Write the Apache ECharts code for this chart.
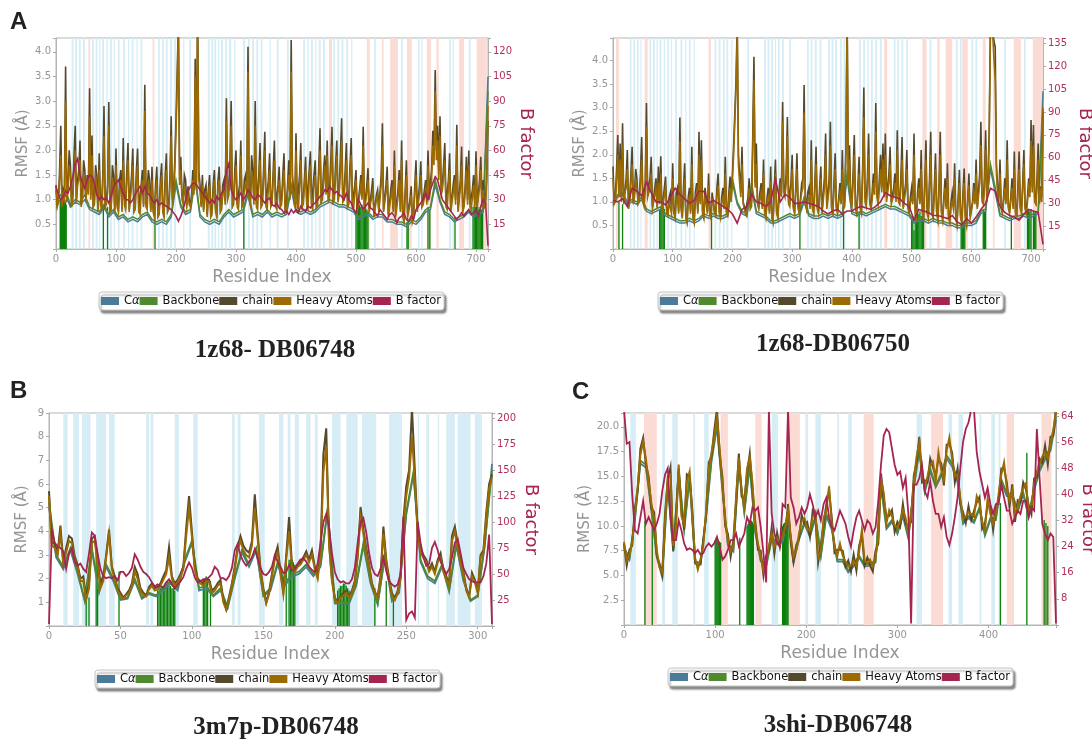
<!DOCTYPE html>
<html>
<head>
<meta charset="utf-8">
<script src="https://cdn.jsdelivr.net/npm/echarts@6/dist/echarts.min.js"></script>
<style>
  html, body { margin: 0; padding: 0; background: #fff; }
  #main { width: 1092px; height: 744px; }
</style>
</head>
<body>
<div id="main"></div>
<script>
// ---------- panel A : 1z68- DB06748 (720 residues) ----------
// chain / heavy atoms read every 2 residues, backbone / C-alpha every 8, B factor every 4
const aChain = [
  1.3, 0.9, 1.0, 1.6, 2.5, 0.9, 1.2, 1.1, 3.7, 1.0, 1.3, 2.0, 1.7, 0.9, 1.1, 1.9, 2.5, 1.0, 1.4, 1.6,
  2.2, 0.9, 1.1, 1.8, 1.6, 1.0, 1.5, 1.2, 3.26, 1.1, 2.3, 0.9, 1.0, 1.7, 1.5, 0.8, 1.94, 1.0, 0.9, 1.5,
  2.9, 0.9, 1.0, 1.3, 2.98, 0.8, 0.9, 1.7, 1.5, 0.8, 2.04, 0.9, 0.8, 1.4, 1.6, 0.8, 2.25, 1.0, 0.9, 1.6,
  2.15, 0.8, 0.8, 1.5, 2.04, 0.8, 0.9, 1.6, 2.04, 0.8, 0.8, 1.3, 1.6, 0.9, 3.33, 0.9, 0.9, 1.6, 1.4, 0.8,
  1.67, 0.8, 0.7, 1.3, 1.67, 0.7, 0.8, 1.4, 1.74, 0.8, 0.7, 1.5, 1.94, 0.8, 0.9, 1.5, 2.69, 1.0, 1.2, 1.8,
  2.6, 3.6, 4.6, 1.4, 1.87, 1.1, 1.0, 1.5, 1.4, 0.9, 1.27, 1.0, 0.9, 1.1, 1.6, 1.2, 3.86, 1.3, 5.0, 1.6,
  1.3, 0.9, 1.5, 0.8, 1.2, 1.3, 0.7, 1.2, 1.5, 0.7, 0.8, 1.3, 1.6, 0.8, 0.7, 1.4, 1.67, 0.8, 0.9, 1.3,
  1.4, 1.0, 3.06, 1.1, 1.2, 1.8, 3.0, 0.9, 1.0, 1.6, 2.0, 0.9, 0.9, 1.3, 2.2, 0.9, 1.0, 1.4, 1.5, 1.2,
  4.1, 1.1, 1.0, 1.9, 1.6, 1.0, 3.0, 0.9, 0.9, 1.5, 2.15, 0.9, 1.0, 1.6, 2.38, 0.9, 0.9, 1.4, 1.94, 0.9,
  1.0, 1.6, 2.2, 0.9, 0.9, 1.3, 1.67, 0.9, 1.0, 1.5, 1.94, 0.8, 0.9, 1.3, 1.8, 1.1, 4.24, 1.5, 1.2, 0.9,
  2.35, 0.9, 0.9, 1.5, 2.15, 0.9, 1.0, 1.4, 1.87, 0.9, 0.9, 1.6, 1.98, 0.9, 0.9, 1.5, 1.8, 0.9, 1.0, 1.7,
  2.45, 1.0, 1.1, 1.6, 1.9, 1.2, 2.2, 1.0, 1.2, 1.8, 2.48, 1.0, 1.1, 1.7, 2.2, 1.0, 1.2, 1.9, 2.65, 1.0,
  1.1, 1.6, 2.15, 0.9, 1.0, 1.7, 2.25, 0.9, 0.9, 1.3, 1.6, 0.8, 0.8, 1.2, 1.5, 1.1, 2.48, 0.8, 0.8, 1.3,
  1.64, 0.8, 0.8, 1.2, 1.44, 0.7, 0.7, 1.1, 1.2, 0.8, 0.8, 1.5, 2.55, 0.8, 0.8, 1.3, 1.67, 0.7, 0.7, 1.2,
  1.4, 0.8, 2.0, 0.7, 0.7, 1.2, 1.6, 0.8, 2.2, 0.7, 0.6, 1.2, 1.8, 0.7, 0.7, 1.0, 1.27, 0.6, 0.7, 1.3,
  1.8, 0.8, 0.8, 1.3, 1.78, 0.9, 1.0, 1.2, 1.4, 1.0, 2.0, 1.1, 1.1, 1.6, 2.4, 1.9, 3.63, 2.0, 2.5, 1.6,
  2.69, 1.2, 1.3, 1.7, 2.15, 0.9, 0.9, 1.4, 1.94, 0.8, 0.8, 1.3, 1.5, 1.0, 2.52, 0.8, 0.8, 1.4, 2.08, 0.8,
  0.9, 1.3, 1.87, 1.0, 2.0, 0.9, 0.9, 1.2, 1.5, 0.9, 1.98, 0.9, 0.9, 1.4, 1.87, 0.9, 1.4, 0.9, 1.0, 1.6,
  2.6
];
const aHeavy = [
  1.2, 0.85, 0.95, 1.4, 1.9, 0.85, 1.1, 1.0, 3.0, 0.95, 1.2, 1.7, 1.5, 0.85, 1.0, 1.6, 2.0, 0.95, 1.3, 1.4,
  1.8, 0.85, 1.0, 1.5, 1.4, 0.95, 1.4, 1.1, 2.7, 1.0, 1.9, 0.85, 0.9, 1.45, 1.3, 0.75, 1.6, 0.9, 0.8, 1.3,
  2.3, 0.85, 0.9, 1.15, 2.5, 0.75, 0.8, 1.45, 1.3, 0.75, 1.7, 0.85, 0.75, 1.2, 1.4, 0.75, 1.8, 0.9, 0.8, 1.4,
  1.8, 0.75, 0.75, 1.3, 1.7, 0.75, 0.8, 1.4, 1.7, 0.75, 0.7, 1.15, 1.4, 0.85, 2.8, 0.85, 0.8, 1.4, 1.2, 0.75,
  1.4, 0.75, 0.65, 1.15, 1.4, 0.65, 0.7, 1.2, 1.5, 0.75, 0.65, 1.3, 1.6, 0.75, 0.8, 1.3, 2.3, 0.9, 1.1, 1.6,
  2.4, 3.3, 4.5, 1.3, 1.6, 1.0, 0.9, 1.3, 1.3, 0.85, 1.1, 0.9, 0.85, 1.0, 1.4, 1.1, 3.5, 1.2, 4.8, 1.4,
  1.2, 0.85, 1.3, 0.75, 1.1, 1.15, 0.65, 1.1, 1.3, 0.65, 0.7, 1.15, 1.4, 0.75, 0.65, 1.25, 1.4, 0.75, 0.8, 1.15,
  1.2, 0.9, 2.6, 1.0, 1.1, 1.5, 2.5, 0.85, 0.9, 1.4, 1.7, 0.85, 0.8, 1.15, 1.9, 0.85, 0.9, 1.25, 1.3, 1.1,
  3.6, 1.0, 0.9, 1.6, 1.4, 0.9, 2.5, 0.85, 0.8, 1.3, 1.8, 0.85, 0.9, 1.4, 2.0, 0.85, 0.8, 1.25, 1.6, 0.85,
  0.9, 1.4, 1.8, 0.85, 0.8, 1.15, 1.4, 0.85, 0.9, 1.3, 1.6, 0.75, 0.8, 1.15, 1.5, 1.0, 3.6, 1.3, 1.1, 0.85,
  2.0, 0.85, 0.8, 1.3, 1.8, 0.85, 0.9, 1.25, 1.6, 0.85, 0.8, 1.4, 1.7, 0.85, 0.8, 1.3, 1.5, 0.85, 0.9, 1.5,
  2.0, 0.95, 1.0, 1.4, 1.7, 1.1, 1.9, 0.95, 1.1, 1.55, 2.1, 0.95, 1.0, 1.5, 1.9, 0.95, 1.1, 1.6, 2.2, 0.95,
  1.0, 1.4, 1.8, 0.85, 0.9, 1.5, 1.9, 0.85, 0.8, 1.15, 1.4, 0.75, 0.75, 1.1, 1.3, 1.0, 2.1, 0.75, 0.75, 1.15,
  1.4, 0.75, 0.75, 1.05, 1.2, 0.65, 0.65, 1.0, 1.1, 0.75, 0.75, 1.3, 2.1, 0.75, 0.75, 1.15, 1.4, 0.65, 0.65, 1.05,
  1.2, 0.75, 1.7, 0.65, 0.65, 1.05, 1.4, 0.75, 1.8, 0.65, 0.55, 1.05, 1.5, 0.65, 0.65, 0.9, 1.1, 0.55, 0.65, 1.15,
  1.5, 0.75, 0.75, 1.15, 1.5, 0.85, 0.9, 1.05, 1.2, 0.9, 1.7, 1.0, 1.0, 1.4, 2.1, 1.7, 3.2, 1.8, 2.2, 1.4,
  2.3, 1.1, 1.2, 1.5, 1.8, 0.85, 0.8, 1.25, 1.6, 0.75, 0.75, 1.15, 1.3, 0.9, 2.1, 0.75, 0.75, 1.25, 1.7, 0.75,
  0.85, 1.15, 1.6, 0.9, 1.7, 0.85, 0.8, 1.05, 1.3, 0.85, 1.7, 0.85, 0.85, 1.25, 1.6, 0.85, 1.2, 0.85, 0.9, 1.4,
  2.9
];
const aBackbone = [
  0.95, 1.1, 1.2, 0.9, 1.0, 0.95, 1.1, 0.85, 0.8, 0.75,
  0.9, 0.7, 0.8, 0.65, 0.7, 0.6, 0.65, 0.6, 0.7, 0.75,
  0.6, 0.55, 0.6, 0.55, 0.7, 1.4, 0.9, 0.75, 0.8, 1.5,
  0.7, 0.6, 0.55, 0.6, 0.55, 0.7, 0.8, 0.7, 0.75, 0.8,
  1.2, 0.7, 0.75, 0.7, 0.8, 0.7, 0.75, 0.7, 0.75, 1.3,
  0.8, 0.75, 0.8, 0.75, 0.8, 0.9, 0.95, 1.0, 0.95, 0.9,
  0.9, 0.85, 0.8, 0.65, 0.7, 0.75, 0.65, 0.7, 0.7, 0.6,
  0.6, 0.55, 0.55, 0.5, 0.6, 0.55, 0.65, 0.8, 0.85, 1.4,
  1.0, 0.75, 0.7, 0.6, 0.65, 0.7, 0.8, 0.7, 0.75, 0.8,
  3.2
];
const aCalpha = [
  0.9, 1.0, 1.1, 0.85, 0.95, 0.9, 1.0, 0.8, 0.75, 0.7,
  0.85, 0.65, 0.75, 0.6, 0.65, 0.55, 0.6, 0.55, 0.65, 0.7,
  0.55, 0.5, 0.55, 0.5, 0.65, 1.3, 0.85, 0.7, 0.75, 1.4,
  0.65, 0.55, 0.5, 0.55, 0.5, 0.65, 0.75, 0.65, 0.7, 0.75,
  1.1, 0.65, 0.7, 0.65, 0.75, 0.65, 0.7, 0.65, 0.7, 1.2,
  0.75, 0.7, 0.75, 0.7, 0.75, 0.85, 0.9, 0.95, 0.9, 0.85,
  0.85, 0.8, 0.75, 0.6, 0.65, 0.7, 0.6, 0.65, 0.65, 0.55,
  0.55, 0.5, 0.5, 0.45, 0.55, 0.5, 0.6, 0.75, 0.8, 1.3,
  0.95, 0.7, 0.65, 0.55, 0.6, 0.65, 0.75, 0.65, 0.7, 0.75,
  3.5
];
const aBfactor = [
  38, 33, 30, 32, 35, 34, 38, 44, 52, 55,
  45, 40, 37, 42, 45, 44, 40, 33, 30, 32,
  30, 31, 28, 32, 38, 40, 42, 38, 34, 30,
  30, 28, 30, 33, 36, 38, 34, 38, 34, 33,
  30, 28, 30, 27, 28, 27, 26, 25, 24, 22,
  20, 17, 20, 24, 30, 35, 38, 40, 40, 38,
  36, 34, 32, 30, 28, 30, 28, 32, 30, 34,
  36, 48, 52, 36, 32, 30, 32, 34, 30, 32,
  36, 34, 31, 30, 33, 32, 30, 28, 30, 31,
  27, 26, 28, 25, 24, 22, 23, 21, 24, 22,
  24, 22, 26, 24, 23, 26, 25, 27, 28, 30,
  32, 33, 36, 35, 38, 36, 34, 35, 33, 32,
  30, 34, 30, 28, 24, 22, 30, 27, 24, 26,
  28, 25, 24, 22, 20, 24, 22, 20, 18, 21,
  22, 20, 16, 19, 20, 22, 18, 17, 20, 18,
  24, 26, 28, 30, 34, 30, 36, 40, 44, 42,
  36, 30, 28, 26, 24, 22, 20, 18, 20, 22,
  20, 22, 24, 21, 22, 24, 20, 26, 30, 28,
  2
];
const aStrands = [[26,29],[32,35],[38,41],[45,48],[60,63],[66,69],[72,74],[77,80],[84,86],[90,93],[96,98],[103,106],[112,115],[120,122],[126,129],[134,136],[141,144],[170,173],[177,180],[183,186],[190,193],[197,200],[212,214],[222,225],[253,256],[259,262],[264,267],[270,272],[275,278],[282,285],[288,292],[297,299],[312,315],[320,323],[327,330],[334,337],[341,344],[356,358],[368,371],[385,388],[412,415],[419,421],[425,428],[432,434],[438,441],[445,448],[462,465],[469,472],[476,479],[484,487],[492,494],[530,533],[567,570],[575,578],[603,606],[609,611],[655,658],[661,663],[688,691]];
const aHelices = [[54,57],[161,164],[455,460],[518,523],[543,546],[557,568],[585,593],[618,625],[634,638],[672,680],[701,718]];
const aContacts = [[7,0.95],[8,1.0],[9,1.0],[10,0.95],[11,1.0],[12,1.0],[13,0.95],[14,0.95],[15,1.0],[16,0.95],[17,0.9],[79,0.9],[86,0.85],[165,0.85],[313,0.8],[500,0.75],[502,0.8],[504,0.85],[506,0.9],[508,0.85],[510,0.9],[512,0.85],[514,0.8],[516,0.85],[518,0.8],[520,0.75],[585,0.55],[587,0.6],[620,0.85],[623,0.8],[665,0.65],[695,0.85],[697,0.9],[699,0.85],[701,0.9],[703,0.85],[705,0.8],[707,0.85],[709,0.8],[711,0.85]];

// ---------- panel A2 : 1z68-DB06750 ----------
const a2Chain = [
  1.75, 1.0, 1.1, 1.7, 2.42, 1.2, 2.24, 1.1, 2.67, 1.0, 1.2, 1.5, 2.1, 0.9, 1.1, 1.6, 2.17, 1.0, 1.2, 1.7,
  1.5, 1.0, 1.1, 1.6, 2.38, 1.1, 1.0, 1.4, 3.1, 1.2, 1.2, 1.5, 1.96, 0.9, 0.9, 1.3, 1.5, 0.9, 1.75, 1.0,
  1.97, 0.8, 0.8, 1.3, 1.54, 0.8, 0.75, 1.1, 1.2, 0.8, 1.82, 0.8, 0.7, 1.2, 1.3, 0.8, 2.79, 0.9, 0.7, 1.3,
  1.82, 0.7, 0.6, 1.1, 1.3, 0.8, 2.17, 0.7, 0.6, 1.2, 1.4, 0.8, 2.49, 1.0, 2.31, 0.8, 0.7, 1.3, 1.1, 0.8,
  1.6, 0.8, 0.7, 1.2, 1.2, 0.8, 0.75, 1.3, 1.6, 0.8, 0.7, 1.1, 1.3, 0.9, 1.96, 0.8, 0.75, 1.2, 1.54, 1.1,
  1.6, 2.2, 2.9, 3.6, 4.8, 2.0, 1.6, 1.2, 2.17, 1.0, 0.9, 0.8, 0.76, 1.1, 1.5, 0.9, 1.0, 2.4, 4.08, 1.4,
  2.24, 1.0, 0.9, 1.2, 1.4, 0.9, 1.9, 0.8, 0.7, 1.1, 1.3, 0.8, 1.75, 0.7, 0.6, 1.3, 1.9, 0.8, 0.7, 1.2,
  1.5, 1.2, 3.12, 1.3, 1.2, 1.6, 2.8, 1.0, 1.0, 1.4, 2.0, 0.9, 0.8, 1.3, 2.03, 0.9, 0.8, 1.1, 1.4, 1.5,
  3.48, 1.1, 0.9, 1.2, 1.3, 0.9, 2.31, 0.9, 0.8, 1.4, 2.17, 0.9, 0.8, 1.3, 1.75, 0.8, 0.8, 1.5, 2.45, 0.9,
  0.9, 1.5, 2.7, 0.9, 0.8, 1.4, 2.03, 0.9, 0.8, 1.1, 1.4, 1.0, 2.1, 0.9, 1.0, 2.2, 5.0, 1.6, 2.2, 1.1,
  1.0, 1.6, 2.42, 0.9, 0.8, 1.3, 1.96, 0.9, 0.8, 1.7, 3.43, 1.1, 1.0, 1.5, 2.45, 1.0, 0.9, 1.2, 1.6, 1.3,
  3.1, 1.2, 1.0, 1.5, 2.0, 1.3, 2.24, 1.2, 2.45, 1.1, 1.1, 1.6, 2.17, 1.0, 1.0, 1.3, 1.6, 1.1, 2.52, 1.1,
  1.0, 1.5, 2.38, 0.9, 0.9, 1.4, 2.1, 0.9, 0.8, 1.1, 1.3, 1.0, 2.45, 0.8, 0.7, 1.2, 1.5, 1.0, 2.1, 0.8,
  0.7, 1.4, 2.31, 0.8, 0.7, 1.5, 2.49, 0.8, 0.7, 1.3, 2.03, 0.8, 0.65, 1.4, 2.49, 0.8, 0.65, 1.1, 1.5, 0.9,
  1.82, 0.7, 0.6, 1.0, 1.2, 0.9, 1.82, 0.7, 0.55, 1.1, 1.68, 0.7, 0.6, 1.2, 1.71, 0.7, 0.55, 1.1, 1.6, 0.7,
  0.7, 1.0, 1.4, 1.0, 1.9, 0.9, 0.9, 1.6, 2.7, 1.1, 1.0, 1.5, 2.52, 1.1, 1.5, 2.6, 4.8, 4.9, 4.6, 4.4,
  4.29, 1.8, 1.3, 1.1, 1.9, 0.9, 0.8, 1.1, 1.5, 1.0, 2.31, 0.9, 0.8, 1.1, 1.5, 0.9, 2.07, 0.8, 0.75, 1.3,
  2.07, 0.9, 0.8, 1.4, 2.1, 0.9, 0.8, 1.1, 1.5, 1.2, 2.74, 1.3, 2.63, 1.1, 1.0, 1.5, 2.24, 1.0, 1.33, 1.1,
  2.9
];
const a2Heavy = [
  1.5, 0.95, 1.0, 1.45, 2.0, 1.1, 1.9, 1.0, 2.2, 0.95, 1.2, 1.3, 1.7, 0.85, 1.0, 1.4, 1.8, 0.95, 1.1, 1.45,
  1.3, 0.95, 1.0, 1.4, 1.9, 1.0, 0.9, 1.25, 2.6, 1.1, 1.1, 1.3, 1.6, 0.85, 0.85, 1.15, 1.3, 0.85, 1.4, 0.95,
  1.6, 0.75, 0.75, 1.15, 1.3, 0.75, 0.7, 1.0, 1.0, 0.75, 1.5, 0.75, 0.65, 1.05, 1.1, 0.75, 2.3, 0.85, 0.65, 1.15,
  1.5, 0.65, 0.55, 1.0, 1.1, 0.75, 1.8, 0.65, 0.55, 1.05, 1.2, 0.75, 2.0, 0.95, 1.9, 0.75, 0.65, 1.15, 0.95, 0.75,
  1.35, 0.75, 0.65, 1.05, 1.0, 0.75, 0.7, 1.15, 1.35, 0.75, 0.65, 1.0, 1.1, 0.85, 1.6, 0.75, 0.7, 1.05, 1.3, 1.0,
  1.5, 2.0, 2.7, 3.4, 4.6, 1.8, 1.4, 1.1, 1.8, 0.95, 0.85, 0.75, 0.7, 1.0, 1.3, 0.85, 0.9, 2.1, 3.6, 1.3,
  1.8, 0.95, 0.85, 1.05, 1.2, 0.85, 1.6, 0.75, 0.65, 1.0, 1.1, 0.75, 1.45, 0.65, 0.55, 1.15, 1.6, 0.75, 0.65, 1.05,
  1.3, 1.1, 2.7, 1.2, 1.1, 1.4, 2.4, 0.95, 0.9, 1.25, 1.7, 0.85, 0.75, 1.15, 1.7, 0.85, 0.75, 1.0, 1.2, 1.3,
  2.9, 1.0, 0.85, 1.05, 1.1, 0.85, 1.9, 0.85, 0.75, 1.25, 1.8, 0.85, 0.75, 1.15, 1.5, 0.75, 0.75, 1.3, 2.0, 0.85,
  0.85, 1.3, 2.2, 0.85, 0.75, 1.25, 1.7, 0.85, 0.75, 1.0, 1.2, 0.95, 1.7, 0.85, 0.9, 2.0, 4.8, 1.4, 1.9, 1.0,
  0.9, 1.4, 2.0, 0.85, 0.75, 1.15, 1.6, 0.85, 0.75, 1.5, 2.8, 1.0, 0.9, 1.3, 2.0, 0.95, 0.85, 1.05, 1.4, 1.15,
  2.5, 1.1, 0.95, 1.3, 1.7, 1.2, 1.9, 1.1, 2.0, 1.0, 1.0, 1.4, 1.8, 0.95, 0.95, 1.15, 1.4, 1.0, 2.1, 1.0,
  0.95, 1.3, 1.9, 0.85, 0.85, 1.25, 1.7, 0.85, 0.75, 1.0, 1.1, 0.95, 2.0, 0.75, 0.65, 1.05, 1.3, 0.95, 1.7, 0.75,
  0.65, 1.25, 1.9, 0.75, 0.65, 1.3, 2.0, 0.75, 0.65, 1.15, 1.7, 0.75, 0.6, 1.25, 2.0, 0.75, 0.6, 1.0, 1.3, 0.85,
  1.5, 0.65, 0.55, 0.9, 1.0, 0.85, 1.5, 0.65, 0.5, 1.0, 1.4, 0.65, 0.55, 1.05, 1.4, 0.65, 0.5, 1.0, 1.35, 0.65,
  0.65, 0.95, 1.2, 0.95, 1.6, 0.85, 0.85, 1.4, 2.2, 1.0, 0.95, 1.3, 2.1, 1.0, 1.4, 2.4, 4.6, 4.7, 4.5, 4.0,
  3.6, 1.6, 1.2, 1.0, 1.6, 0.85, 0.75, 1.0, 1.3, 0.95, 1.9, 0.85, 0.75, 1.0, 1.3, 0.85, 1.7, 0.75, 0.7, 1.15,
  1.7, 0.85, 0.75, 1.25, 1.8, 0.85, 0.75, 1.0, 1.3, 1.1, 2.3, 1.2, 2.2, 1.0, 0.95, 1.3, 1.9, 0.95, 1.2, 1.0,
  3.0
];
const a2Backbone = [
  1.0, 1.15, 1.2, 1.0, 1.05, 1.0, 1.1, 0.85, 0.8, 0.85,
  0.9, 0.75, 0.7, 0.65, 0.6, 0.6, 0.65, 0.6, 0.65, 0.75,
  0.7, 0.75, 0.7, 0.7, 0.75, 1.5, 1.0, 0.8, 0.75, 1.4,
  0.8, 0.75, 0.7, 0.6, 0.6, 0.65, 0.7, 0.75, 0.7, 0.75,
  1.1, 0.75, 0.7, 0.7, 0.75, 0.7, 0.75, 0.7, 0.75, 1.6,
  0.8, 0.75, 0.8, 0.75, 0.8, 0.85, 0.9, 0.95, 0.9, 0.9,
  0.85, 0.8, 0.75, 0.6, 0.65, 0.65, 0.6, 0.65, 0.6, 0.6,
  0.55, 0.55, 0.5, 0.5, 0.55, 0.55, 0.6, 0.8, 0.85, 1.8,
  1.3, 0.75, 0.7, 0.65, 0.7, 0.7, 0.75, 0.7, 0.75, 0.8,
  3.0
];
const a2Calpha = [
  0.95, 1.1, 1.15, 0.95, 1.0, 0.95, 1.05, 0.8, 0.75, 0.8,
  0.85, 0.7, 0.65, 0.6, 0.55, 0.55, 0.6, 0.55, 0.6, 0.7,
  0.65, 0.7, 0.65, 0.65, 0.7, 1.4, 0.95, 0.75, 0.7, 1.3,
  0.75, 0.7, 0.65, 0.55, 0.55, 0.6, 0.65, 0.7, 0.65, 0.7,
  1.0, 0.7, 0.65, 0.65, 0.7, 0.65, 0.7, 0.65, 0.7, 1.5,
  0.75, 0.7, 0.75, 0.7, 0.75, 0.8, 0.85, 0.9, 0.85, 0.85,
  0.8, 0.75, 0.7, 0.55, 0.6, 0.6, 0.55, 0.6, 0.55, 0.55,
  0.5, 0.5, 0.45, 0.45, 0.5, 0.5, 0.55, 0.75, 0.8, 1.7,
  1.2, 0.7, 0.65, 0.6, 0.65, 0.65, 0.7, 0.65, 0.7, 0.75,
  3.35
];
const a2Bfactor = [
  32, 31, 33, 28, 40, 38, 35, 44, 37, 31,
  31, 29, 34, 40, 36, 33, 30, 32, 38, 38,
  30, 32, 30, 28, 26, 23, 17, 26, 28, 36,
  31, 30, 28, 31, 46, 31, 36, 34, 30, 30,
  31, 30, 29, 28, 25, 23, 25, 26, 23, 25,
  25, 27, 28, 27, 26, 28, 31, 37, 35, 34,
  33, 30, 28, 19, 26, 25, 24, 22, 22, 21,
  20, 22, 18, 16, 20, 17, 21, 26, 30, 40,
  38, 28, 24, 22, 21, 19, 23, 26, 25, 24,
  3
];
const a2Strands = [[28,31],[34,37],[40,43],[46,48],[61,64],[67,70],[73,75],[78,81],[85,87],[91,94],[97,99],[104,107],[113,116],[121,123],[127,130],[135,137],[170,173],[177,180],[184,187],[190,193],[198,200],[225,228],[253,256],[259,262],[265,268],[271,273],[276,279],[283,286],[295,298],[325,328],[331,334],[338,341],[346,349],[360,363],[366,369],[372,375],[380,383],[386,389],[412,415],[419,422],[426,428],[432,435],[439,442],[447,450],[470,473],[476,479],[483,486],[491,494],[530,533],[574,577],[581,584],[600,603],[607,610],[655,658],[688,691]];
const a2Helices = [[5,10],[53,58],[160,164],[454,459],[518,525],[543,547],[557,568],[585,594],[619,624],[636,639],[671,683],[703,720]];
const a2Contacts = [[10,1.0],[16,0.95],[78,0.85],[80,0.9],[82,0.85],[84,0.9],[86,0.85],[165,0.85],[313,0.8],[386,0.8],[412,0.8],[500,0.65],[502,0.7],[504,0.4],[506,0.75],[508,0.7],[510,0.8],[512,0.75],[514,0.8],[516,0.7],[518,0.75],[520,0.8],[583,0.55],[585,0.5],[587,0.55],[589,0.6],[620,0.85],[622,0.8],[624,0.85],[667,0.7],[694,0.8],[696,0.85],[698,0.8],[700,0.85],[704,0.8],[706,0.75],[708,0.8]];

// ---------- panel B : 3m7p-DB06748 (310 residues) ----------
// chain / heavy / B factor every 2 residues, backbone / C-alpha every 5
const bChain = [
  5.7, 3.5, 3.5, 3.1, 4.24, 2.7, 3.3, 3.8, 3.7, 2.95,
  2.6, 2.0, 2.1, 1.2, 1.8, 3.7, 3.8, 2.8, 1.8, 2.1,
  3.0, 4.07, 2.5, 2.1, 1.6, 1.4, 1.2, 1.35, 1.5, 1.8,
  2.5, 2.2, 1.6, 1.4, 1.3, 1.65, 1.8, 1.6, 1.65, 1.8,
  2.1, 2.35, 3.33, 2.1, 1.8, 1.95, 2.2, 2.5, 4.14, 5.49,
  4.0, 2.5, 2.0, 1.9, 1.8, 2.0, 1.95, 1.5, 1.6, 1.8,
  1.95, 1.1, 0.7, 1.25, 1.8, 2.5, 3.36, 3.8, 3.4, 3.2,
  3.1, 3.58, 5.56, 3.93, 2.4, 1.6, 1.0, 1.45, 2.2, 2.95,
  3.36, 2.3, 1.45, 3.0, 4.6, 2.6, 2.4, 2.6, 2.7, 2.9,
  3.15, 2.8, 3.2, 2.5, 2.1, 3.2, 7.25, 8.35, 3.5, 2.0,
  1.2, 1.0, 1.25, 1.4, 1.5, 1.25, 1.5, 1.9, 3.0, 5.03,
  4.07, 3.3, 2.6, 1.8, 1.45, 1.25, 2.1, 4.2, 2.8, 2.0,
  1.4, 1.15, 1.5, 2.1, 4.5, 5.9, 6.6, 9.2, 6.6, 4.0,
  3.3, 3.0, 2.8, 2.4, 2.65, 2.3, 2.8, 3.08, 2.4, 2.1,
  1.8, 3.81, 4.2, 3.5, 2.8, 2.3, 1.55, 1.25, 2.25, 1.95,
  1.45, 3.0, 3.2, 4.8, 6.0, 6.4
];
const bHeavy = [
  5.5, 3.4, 3.3, 3.0, 3.9, 2.6, 3.1, 3.6, 3.5, 2.8,
  2.5, 1.9, 1.9, 1.1, 1.6, 3.5, 3.6, 2.6, 1.6, 1.9,
  2.9, 3.9, 2.4, 2.0, 1.5, 1.3, 1.15, 1.3, 1.4, 1.7,
  2.3, 2.0, 1.5, 1.3, 1.25, 1.55, 1.7, 1.5, 1.55, 1.7,
  1.95, 2.2, 2.9, 2.0, 1.7, 1.85, 2.1, 2.4, 3.8, 5.0,
  3.8, 2.4, 1.9, 1.8, 1.7, 1.9, 1.85, 1.4, 1.5, 1.7,
  1.8, 1.0, 0.7, 1.15, 1.7, 2.4, 3.2, 3.6, 3.2, 3.0,
  2.9, 3.4, 5.0, 3.7, 2.3, 1.5, 0.95, 1.35, 2.1, 2.8,
  3.1, 2.2, 1.35, 2.8, 4.0, 2.5, 2.3, 2.5, 2.6, 2.8,
  3.0, 2.7, 3.0, 2.4, 2.0, 3.0, 6.5, 7.6, 3.4, 1.9,
  1.15, 0.95, 1.2, 1.3, 1.4, 1.2, 1.4, 1.8, 2.9, 4.6,
  3.9, 3.1, 2.5, 1.7, 1.4, 1.2, 2.0, 3.9, 2.7, 1.9,
  1.3, 1.1, 1.4, 2.0, 4.2, 5.5, 6.3, 8.0, 6.2, 3.8,
  3.1, 2.9, 2.7, 2.3, 2.5, 2.2, 2.7, 2.9, 2.3, 2.0,
  1.7, 3.6, 4.0, 3.3, 2.7, 2.2, 1.5, 1.2, 2.1, 1.85,
  1.4, 2.9, 3.1, 4.6, 5.8, 6.3
];
const bBackbone = [
  5.2, 3.0, 2.5, 3.3, 2.3, 1.1, 3.3, 1.5, 2.6, 2.0,
  1.15, 1.2, 2.0, 1.2, 1.4, 1.3, 1.6, 1.9, 1.6, 2.8,
  3.6, 1.6, 1.7, 1.3, 1.6, 0.8, 2.1, 3.2, 2.6, 3.3,
  1.3, 1.6, 2.7, 1.8, 2.2, 2.3, 2.6, 2.2, 2.6, 5.0,
  1.0, 1.0, 1.0, 1.8, 3.5, 1.9, 0.95, 3.0, 1.1, 1.5,
  4.8, 6.5, 2.8, 2.1, 1.9, 2.6, 1.5, 3.5, 2.0, 1.1,
  1.3, 3.5, 6.6
];
const bCalpha = [
  5.0, 2.9, 2.4, 3.2, 2.2, 1.05, 3.2, 1.4, 2.5, 1.9,
  1.1, 1.15, 1.9, 1.15, 1.35, 1.25, 1.5, 1.8, 1.5, 2.7,
  3.5, 1.5, 1.6, 1.25, 1.5, 0.75, 2.0, 3.1, 2.5, 3.2,
  1.25, 1.5, 2.6, 1.7, 2.1, 2.2, 2.5, 2.1, 2.5, 4.9,
  0.95, 0.95, 0.95, 1.7, 3.4, 1.8, 0.9, 2.9, 1.05, 1.4,
  4.7, 6.4, 2.7, 2.0, 1.8, 2.5, 1.45, 3.4, 1.9, 1.05,
  1.25, 3.4, 6.85
];
const bBfactor = [
  2, 92, 80, 77, 75, 72, 55, 70, 75, 62,
  58, 60, 55, 52, 70, 90, 87, 70, 55, 48,
  46, 47, 46, 48, 44, 52, 52, 48, 51, 56,
  69, 64, 57, 52, 50, 47, 42, 38, 40, 38,
  37, 42, 45, 40, 36, 40, 43, 47, 55, 61,
  56, 47, 42, 43, 45, 45, 47, 50, 57, 54,
  46, 46, 44, 48, 56, 73, 79, 68, 62, 58,
  62, 66, 74, 65, 56, 50, 49, 52, 57, 68,
  62, 57, 51, 52, 59, 53, 55, 60, 64, 65,
  62, 57, 54, 52, 60, 80, 100, 108, 95, 70,
  52, 45, 42, 43, 41, 41, 45, 56, 80, 100,
  104, 90, 70, 56, 50, 48, 55, 66, 53, 43,
  40, 38, 40, 50, 105, 6, 12, 14, 8, 100,
  80, 66, 58, 60, 75, 81, 73, 62, 56, 50,
  55, 66, 80, 84, 70, 56, 50, 45, 43, 42,
  42, 42, 48, 60, 88, 2
];
const bStrands = [[10,13],[17,21],[23,29],[33,40],[42,46],[68,70],[71,73],[88,91],[101,104],[128,130],[132,134],[147,151],[161,164],[167,169],[172,175],[180,183],[186,188],[198,204],[208,216],[219,229],[238,247],[258,259],[264,266],[272,273],[278,284],[286,295],[298,303]];
const bHelices = [];
const bContacts = [[26,1.2],[28,1.2],[33,3.1],[34,3.1],[49,2.3],[76,1.5],[77,1.6],[78,1.6],[79,1.7],[80,1.7],[81,1.8],[82,1.8],[83,1.9],[84,1.7],[85,1.7],[86,1.6],[87,1.6],[88,1.5],[108,2.0],[109,2.0],[110,2.1],[111,2.0],[113,1.9],[166,3.0],[168,2.8],[169,2.8],[170,2.8],[171,2.7],[172,2.6],[202,1.5],[203,1.6],[204,1.7],[205,1.7],[206,1.8],[207,1.8],[208,1.7],[209,1.6],[210,1.5],[228,1.6],[236,1.9],[241,1.1]];

// ---------- panel C : 3shi-DB06748 (474 residues) ----------
// chain / heavy / B factor every 3 residues, backbone / C-alpha every 6
const cChain = [
  8.2, 6.0, 7.6, 8.0, 11.8, 13.6, 17.8, 18.9, 16.2, 15.0,
  11.8, 11.4, 7.0, 6.2, 5.1, 11.2, 14.6, 15.9, 7.5, 10.5,
  15.8, 11.6, 9.6, 15.2, 15.0, 11.6, 6.3, 6.0, 6.2, 8.6,
  11.0, 16.4, 17.0, 19.6, 21.8, 17.2, 14.9, 10.0, 9.2, 6.9,
  8.6, 12.5, 17.3, 13.0, 12.6, 15.3, 17.3, 13.7, 10.5, 7.6,
  7.5, 5.0, 7.0, 7.5, 9.8, 7.2, 9.3, 7.9, 9.6, 9.4,
  12.2, 8.3, 6.4, 8.1, 8.7, 11.1, 10.2, 10.4, 8.9, 11.5,
  10.8, 6.3, 8.1, 10.2, 12.2, 13.5, 10.8, 7.3, 7.6, 7.6,
  7.5, 5.9, 6.5, 5.4, 7.1, 5.5, 8.0, 9.0, 6.0, 6.8,
  6.0, 5.4, 7.5, 8.2, 15.3, 12.7, 10.9, 11.0, 11.6, 9.4,
  10.4, 9.9, 12.2, 10.2, 9.9, 10.4, 15.1, 16.4, 19.0, 14.4,
  14.6, 14.4, 16.8, 15.9, 15.1, 16.8, 16.3, 14.1, 18.2, 18.3,
  17.4, 14.4, 15.8, 12.2, 11.4, 10.3, 12.0, 10.6, 11.5, 12.4,
  12.9, 9.7, 10.2, 12.2, 11.8, 9.6, 11.8, 12.6, 15.8, 15.8,
  14.4, 11.9, 14.2, 10.4, 12.6, 12.4, 14.4, 13.7, 12.1, 11.2,
  14.8, 14.9, 16.8, 16.4, 18.1, 16.2, 19.0, 19.1, 22.0
];
const cHeavy = [
  8.4, 6.5, 7.2, 8.3, 11.3, 14.0, 17.2, 18.5, 16.8, 14.5,
  12.3, 10.8, 7.5, 5.8, 5.3, 10.5, 15.0, 15.2, 8.0, 9.9,
  16.2, 11.0, 10.2, 14.5, 15.5, 11.0, 6.8, 5.6, 6.7, 8.0,
  11.5, 15.8, 17.4, 19.0, 21.0, 17.7, 14.3, 10.5, 8.6, 7.4,
  8.0, 13.0, 16.9, 13.5, 12.0, 15.8, 16.9, 14.3, 9.9, 8.2,
  7.0, 5.5, 6.5, 8.0, 9.2, 7.8, 8.8, 8.4, 9.0, 9.9,
  11.6, 8.9, 6.9, 7.6, 9.2, 10.5, 10.8, 9.8, 9.5, 10.9,
  11.4, 6.8, 7.5, 10.8, 11.6, 14.0, 10.2, 7.9, 7.0, 8.2,
  7.0, 6.4, 5.9, 6.0, 6.5, 6.0, 7.4, 9.6, 6.5, 6.2,
  6.6, 5.9, 6.9, 8.8, 14.7, 13.3, 10.3, 11.6, 11.0, 10.0,
  9.8, 10.5, 11.6, 10.8, 9.3, 11.0, 14.5, 17.0, 18.4, 15.0,
  14.0, 15.0, 16.2, 16.5, 14.5, 17.4, 15.7, 14.7, 17.6, 18.9,
  16.8, 15.0, 15.2, 12.8, 10.8, 10.9, 11.4, 11.2, 10.9, 13.0,
  12.3, 10.3, 9.6, 12.8, 11.2, 10.2, 11.2, 13.2, 15.2, 16.4,
  13.8, 12.5, 13.6, 11.0, 12.0, 13.0, 13.8, 14.3, 11.5, 11.8,
  14.2, 15.5, 16.2, 17.0, 17.5, 16.8, 18.4, 19.7, 21.5
];
const cBackbone = [
  7.8, 6.8, 10.8, 16.6, 16.2, 11.8, 7.0, 5.0, 14.4, 7.6,
  15.6, 9.8, 15.0, 6.4, 6.3, 11.0, 16.8, 20.3, 13.8, 8.2,
  7.6, 16.3, 11.5, 16.3, 9.5, 6.6, 6.1, 8.8, 8.4, 8.6,
  11.1, 6.5, 8.8, 10.4, 9.1, 11.0, 7.1, 11.2, 9.8, 6.6,
  6.6, 5.5, 6.1, 7.0, 6.1, 6.2, 6.5, 14.2, 9.9, 10.6,
  9.4, 11.2, 8.9, 14.0, 17.9, 13.6, 15.8, 14.1, 15.3, 17.1,
  16.3, 14.7, 10.4, 11.0, 10.5, 11.9, 9.2, 10.8, 10.8, 14.7,
  13.3, 13.2, 11.6, 13.4, 11.1, 13.8, 15.8, 17.0, 17.9, 21.0
];
const cCalpha = [
  7.6, 6.6, 10.6, 16.3, 15.9, 11.6, 6.8, 4.8, 14.1, 7.4,
  15.3, 9.6, 14.7, 6.2, 6.1, 10.8, 16.5, 20.0, 13.5, 8.0,
  7.4, 16.0, 11.3, 16.0, 9.3, 6.4, 5.9, 8.6, 8.2, 8.4,
  10.9, 6.3, 8.6, 10.2, 8.9, 10.8, 6.9, 11.0, 9.6, 6.4,
  6.4, 5.3, 5.9, 6.8, 5.9, 6.0, 6.3, 13.9, 9.7, 10.4,
  9.2, 11.0, 8.7, 13.7, 17.6, 13.4, 15.5, 13.9, 15.0, 16.8,
  16.0, 14.4, 10.2, 10.8, 10.3, 11.7, 9.0, 10.6, 10.6, 14.4,
  13.0, 13.0, 11.4, 13.2, 10.9, 13.6, 15.5, 16.7, 17.6, 20.7
];
const cBfactor = [
  66, 55.5, 56, 40, 29, 28, 33, 38, 31, 33,
  31, 29, 31, 34, 41, 46, 48, 33, 26, 26,
  32, 29, 25, 23, 23.5, 23, 22, 23, 21.5, 22,
  24, 25, 24, 25, 27, 24, 20, 21, 23, 26,
  26, 28, 24, 26, 28, 33, 31, 36, 35, 36,
  30, 22, 13, 66, 34, 28, 25, 24, 37, 36,
  66, 39, 36, 31, 33, 36, 34, 36, 40, 37,
  33, 35, 32, 37, 39, 33, 30, 29, 32, 35,
  33, 31, 27, 24, 29, 33, 35, 32, 29, 32,
  31, 28, 30, 38, 49, 58, 60, 59, 54, 49,
  46, 47, 42, 45, 34, 0.5, 43, 43, 45, 49,
  41, 39, 44, 38, 34, 34, 30, 33, 27, 24.5,
  28, 33, 39, 48, 56, 60, 62, 66, 66, 53,
  47, 43, 39, 42, 37, 34, 37, 37, 43, 39,
  35, 35, 31, 33, 35, 34, 38, 38, 33, 36,
  35, 60, 45, 31, 28, 26, 28, 27, 0.5
];
const cStrands = [[7,13],[42,45],[53,59],[76,78],[88,93],[162,169],[199,202],[210,216],[234,236],[246,250],[321,327],[356,360],[367,372],[390,392],[403,407],[411,413]];
const cHelices = [[22,36],[106,114],[144,151],[179,193],[263,274],[337,350],[420,428],[458,469]];
const cContacts = [[23,10.5],[31,10.5],[100,8.5],[101,8.6],[102,8.7],[103,8.6],[104,8.5],[105,8.4],[106,8.3],[127,8.8],[135,10.0],[136,10.2],[137,10.4],[138,10.5],[139,10.6],[140,10.5],[141,10.4],[142,10.2],[174,10.0],[175,10.2],[176,10.3],[177,10.4],[178,10.5],[179,10.6],[180,10.5],[413,12.3],[442,17.4],[461,10.6],[463,10.3],[465,10.0]];

// ---------- styling ----------
const NAMES = ['Cα', 'Backbone', 'chain', 'Heavy Atoms', 'B factor'];
const COLORS = ['#4a7c99', '#4f8a2f', '#54492d', '#9b6a03', '#a52450'];
const CONTACT_COLOR = '#0b800b';
const STRAND_COLOR = '#d6edf5';
const HELIX_COLOR = '#fbdcd5';
const GRAY = '#959595';
const FONT = 'DejaVu Sans';

// widths: [C-alpha/backbone, chain/heavy, B factor]
const panels = [
  { box: [56, 38, 432, 211], xMax: 720, xStep: 100, yMax: 4.28, yStep: 0.5, yDec: 1, bMax: 128.4, bStep: 15,
    lines: [[aCalpha, 8], [aBackbone, 8], [aChain, 2], [aHeavy, 2], [aBfactor, 4]], widths: [1.5, 1.6, 1.6],
    strands: aStrands, helices: aHelices, contacts: aContacts,
    leftGap: 25, rightGap: 29, legend: [99, 292] },
  { box: [613, 38, 430, 211], xMax: 720, xStep: 100, yMax: 4.48, yStep: 0.5, yDec: 1, bMax: 138.7, bStep: 15,
    lines: [[a2Calpha, 8], [a2Backbone, 8], [a2Chain, 2], [a2Heavy, 2], [a2Bfactor, 8]], widths: [1.5, 1.6, 1.6],
    strands: a2Strands, helices: a2Helices, contacts: a2Contacts,
    leftGap: 25, rightGap: 33, legend: [658, 292] },
  { box: [49, 413, 443, 213], xMax: 310, xStep: 50, yMax: 9, yStep: 1, yDec: 0, bMax: 205, bStep: 25,
    lines: [[bCalpha, 5], [bBackbone, 5], [bChain, 2], [bHeavy, 2], [bBfactor, 2]], widths: [1.8, 2, 1.8],
    strands: bStrands, helices: bHelices, contacts: bContacts,
    leftGap: 19, rightGap: 30, legend: [95, 670] },
  { box: [624, 413, 432, 212], xMax: 474, xStep: 100, yMax: 21.4, yStep: 2.5, yDec: 1, bMax: 64.9, bStep: 8,
    lines: [[cCalpha, 6], [cBackbone, 6], [cChain, 3], [cHeavy, 3], [cBfactor, 3]], widths: [1.8, 2, 1.8],
    strands: cStrands, helices: cHelices, contacts: cContacts,
    leftGap: 31, rightGap: 23, legend: [668, 668] }
];

function tickFmt(step, dec, hideZero) {
  return function (v) {
    const k = v / step;
    if (Math.abs(k - Math.round(k)) > 1e-6) return '';
    if (hideZero && v === 0) return '';
    return v.toFixed(dec);
  };
}

const grid = [], xAxis = [], yAxis = [], series = [], legend = [];

panels.forEach(function (p, i) {
  grid.push({ left: p.box[0], top: p.box[1], width: p.box[2], height: p.box[3],
    show: true, borderColor: '#b5b5b5', borderWidth: 1, containLabel: false, outerBoundsMode: 'none' });

  xAxis.push({ gridIndex: i, type: 'value', min: 0, max: p.xMax, interval: p.xStep,
    name: 'Residue Index', nameLocation: 'middle', nameGap: 20,
    nameTextStyle: { color: GRAY, fontSize: 17, fontFamily: FONT },
    axisLine: { show: true, lineStyle: { color: '#b5b5b5' } },
    axisTick: { show: true, length: 3, lineStyle: { color: '#aaa' } },
    axisLabel: { color: GRAY, fontSize: 10, margin: 5, fontFamily: FONT, formatter: tickFmt(p.xStep, 0, false) },
    splitLine: { show: false } });

  yAxis.push({ gridIndex: i, type: 'value', position: 'left', min: 0, max: p.yMax, interval: p.yStep,
    name: 'RMSF (Å)', nameLocation: 'middle', nameGap: p.leftGap,
    nameTextStyle: { color: GRAY, fontSize: 15, fontFamily: FONT },
    axisLine: { show: true, lineStyle: { color: '#b5b5b5' } },
    axisTick: { show: true, length: 3, lineStyle: { color: '#aaa' } },
    axisLabel: { color: GRAY, fontSize: 10, margin: 5, fontFamily: FONT, formatter: tickFmt(p.yStep, p.yDec, true) },
    splitLine: { show: false } });

  yAxis.push({ gridIndex: i, type: 'value', position: 'right', min: 0, max: p.bMax, interval: p.bStep,
    name: 'B factor', nameLocation: 'middle', nameGap: p.rightGap, nameRotate: -90,
    nameTextStyle: { color: COLORS[4], fontSize: 18, fontFamily: FONT },
    axisLine: { show: true, lineStyle: { color: '#b5b5b5' } },
    axisTick: { show: true, length: 3, lineStyle: { color: '#aaa' } },
    axisLabel: { color: '#b0305a', fontSize: 10, margin: 5, fontFamily: FONT, formatter: tickFmt(p.bStep, 0, true) },
    splitLine: { show: false } });

  // secondary structure shading
  const spans = p.strands.map(function (s) { return [{ xAxis: s[0], itemStyle: { color: STRAND_COLOR } }, { xAxis: s[1] }]; })
    .concat(p.helices.map(function (s) { return [{ xAxis: s[0], itemStyle: { color: HELIX_COLOR } }, { xAxis: s[1] }]; }));
  series.push({ type: 'line', name: 'ss' + i, xAxisIndex: i, yAxisIndex: i * 2, data: [], z: 1, silent: true,
    markArea: { silent: true, data: spans } });

  // ligand contacts
  series.push({ type: 'bar', name: 'contacts' + i, xAxisIndex: i, yAxisIndex: i * 2, data: p.contacts,
    barWidth: 1.3, itemStyle: { color: CONTACT_COLOR }, z: 2, silent: true });

  p.lines.forEach(function (l, k) {
    const w = k < 2 ? p.widths[0] : (k < 4 ? p.widths[1] : p.widths[2]);
    series.push({ type: 'line', name: NAMES[k], xAxisIndex: i, yAxisIndex: k === 4 ? i * 2 + 1 : i * 2,
      data: l[0].map(function (v, j) { return [j * l[1], v]; }),
      showSymbol: false, symbol: 'none', color: COLORS[k], clip: true, z: 3,
      lineStyle: { width: w, color: COLORS[k], join: 'miter' } });
  });

  legend.push({ data: NAMES, left: p.legend[0], top: p.legend[1], orient: 'horizontal', icon: 'rect',
    itemWidth: 18, itemHeight: 8, itemGap: 0, padding: [3, 3, 3, 2], selectedMode: false,
    borderColor: '#c4c4c4', borderWidth: 1, borderRadius: 3, backgroundColor: '#fff',
    shadowColor: 'rgba(0,0,0,0.45)', shadowBlur: 2, shadowOffsetX: 2, shadowOffsetY: 3,
    formatter: function (n) { return n === 'Cα' ? 'C{a|α}' : n; },
    textStyle: { color: '#111', fontSize: 11.5, fontFamily: FONT,
      rich: { a: { color: '#111', fontSize: 11.5, fontFamily: FONT, fontStyle: 'italic' } } } });
});

function label(text, x, y, font, align) {
  return { type: 'text', x: x, y: y, silent: true,
    style: { text: text, font: font, fill: '#222', align: align, verticalAlign: 'middle',
      textAlign: align, textVerticalAlign: 'middle' } };
}

const chart = echarts.init(document.getElementById('main'));
chart.setOption({
  animation: false,
  backgroundColor: '#fff',
  textStyle: { fontFamily: FONT },
  grid: grid, xAxis: xAxis, yAxis: yAxis, series: series, legend: legend,
  graphic: [
    label('A', 10, 22, 'bold 24px "Liberation Sans"', 'left'),
    label('B', 10, 391, 'bold 24px "Liberation Sans"', 'left'),
    label('C', 572, 392, 'bold 24px "Liberation Sans"', 'left'),
    label('1z68- DB06748', 275, 351, 'bold 25px "Liberation Serif"', 'center'),
    label('1z68-DB06750', 833, 345, 'bold 25px "Liberation Serif"', 'center'),
    label('3m7p-DB06748', 276, 728, 'bold 25px "Liberation Serif"', 'center'),
    label('3shi-DB06748', 838, 726, 'bold 25px "Liberation Serif"', 'center')
  ]
});
</script>
</body>
</html>
